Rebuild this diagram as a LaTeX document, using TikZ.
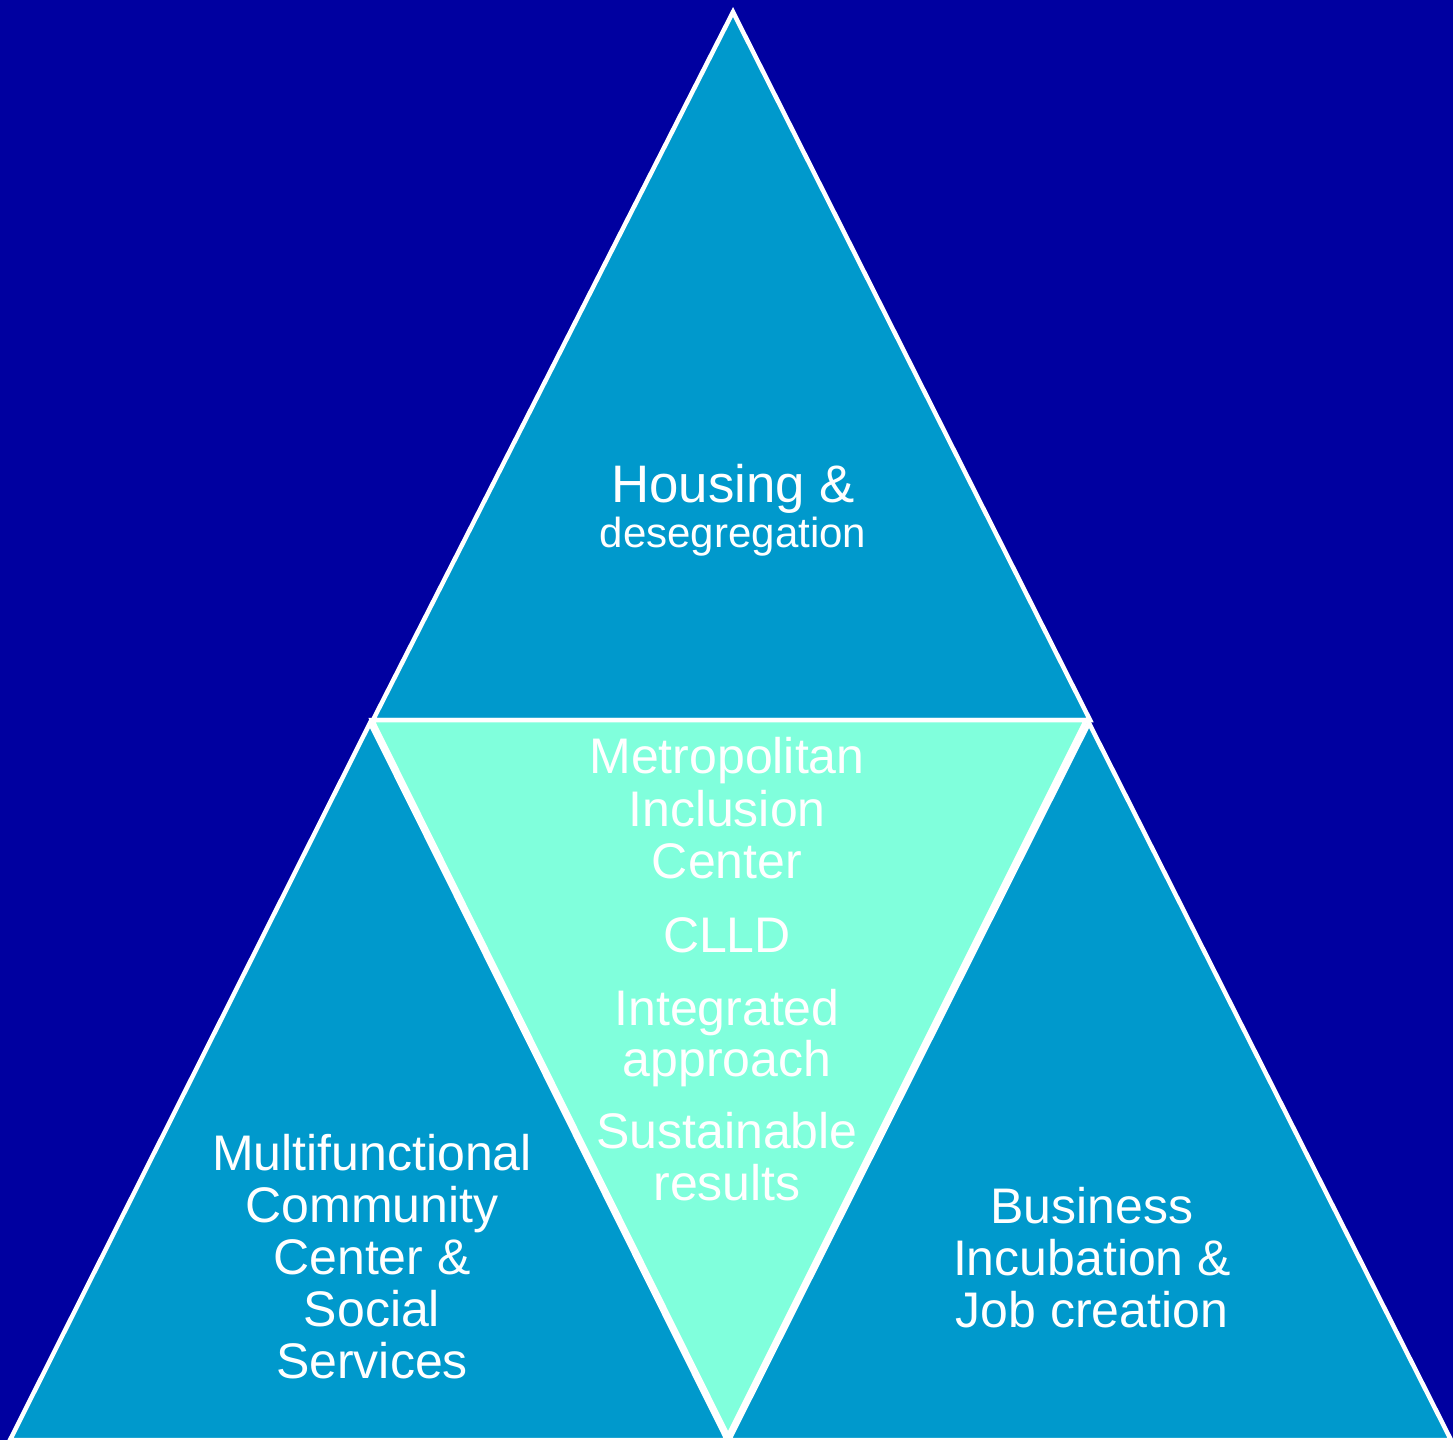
\documentclass[tikz,border=0pt]{standalone}
\usepackage{fontspec}
\setmainfont{Liberation Sans}
\definecolor{bgblue}{RGB}{0,0,160}
\definecolor{trifill}{RGB}{0,153,204}
\definecolor{midfill}{RGB}{128,255,220}
\begin{document}
\begin{tikzpicture}[x=1pt,y=-1pt,
  tripart/.style={fill=trifill,draw=white,line width=4.5pt,line join=miter},
  midpart/.style={fill=midfill,draw=white,line width=4.5pt,line join=miter},
  lbl/.style={text=white,anchor=base,inner sep=0pt,font=\fontsize{50}{52}\selectfont},
  lblbig/.style={lbl,font=\fontsize{52.8}{54}\selectfont},
  lblsmall/.style={lbl,font=\fontsize{42}{44}\selectfont}]
\useasboundingbox[fill=bgblue] (0,0) rectangle (1453,1440);
% triangles
\draw[tripart] (733,12) -- (373,720) -- (1090,720) -- cycle;
\draw[midpart] (372,720) -- (1086,720) -- (728,1436) -- cycle;
\draw[tripart] (370,723) -- (10,1440) -- (727,1440) -- cycle;
\draw[tripart] (1089,723) -- (729,1440) -- (1451,1440) -- cycle;
% top
\node[lblbig] (h1) at (733,502) {Housing \&};
\node[lblsmall] (h2) at (733,547) {desegregation};
% center
\node[lbl] (c1) at (727,773) {Metropolitan};
\node[lbl] (c2) at (727,826) {Inclusion};
\node[lbl] (c3) at (727,878) {Center};
\node[lbl] (c4) at (727,952) {CLLD};
\node[lbl] (c5) at (727,1025) {Integrated};
\node[lbl] (c6) at (727,1076) {approach};
\node[lbl] (c7) at (727,1148) {Sustainable};
\node[lbl] (c8) at (727,1200) {results};
% left
\node[lbl] (l1) at (372,1170) {Multifunctional};
\node[lbl] (l2) at (372,1222) {Community};
\node[lbl] (l3) at (372,1274) {Center \&};
\node[lbl] (l4) at (372,1326) {Social};
\node[lbl] (l5) at (372,1378) {Services};
% right
\node[lbl] (r1) at (1092,1223) {Business};
\node[lbl] (r2) at (1092,1275) {Incubation \&};
\node[lbl] (r3) at (1092,1327) {Job creation};
\end{tikzpicture}
\end{document}
